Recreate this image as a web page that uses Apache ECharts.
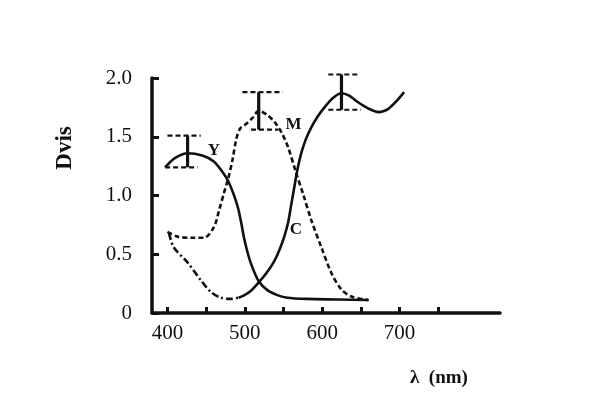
<!DOCTYPE html>
<html><head><meta charset="utf-8">
<script src="https://cdn.jsdelivr.net/npm/echarts@6/dist/echarts.min.js"></script>
<style>html,body{margin:0;padding:0;background:#fff}#c{width:600px;height:400px}</style>
</head><body><div id="c"></div>
<script>
// Curves [wavelength nm, Dvis]
const yellowCurve = [[397,1.24],[410,1.32],[426,1.36],[445,1.34],[460,1.29],[470,1.21],[478,1.13],[485,1.02],[491,0.90],[495,0.78],[499,0.64],[503,0.53],[508,0.42],[518,0.27],[530,0.19],[543,0.15],[555,0.13],[580,0.12],[620,0.115],[660,0.11]];
const magentaCurve = [[400,0.69],[413,0.65],[430,0.64],[447,0.64],[460,0.73],[467,0.88],[473,1.02],[478,1.13],[484,1.30],[489,1.48],[494,1.57],[502,1.61],[510,1.66],[518,1.72],[528,1.69],[538,1.63],[548,1.53],[556,1.41],[566,1.20],[576,1.00],[586,0.79],[599,0.56],[612,0.34],[625,0.20],[638,0.14],[660,0.11]];
const cyanDashDot = [[402,0.68],[408,0.56],[426,0.43],[443,0.28],[456,0.18],[469,0.13],[482,0.12],[492,0.13]];
const cyanSolid = [[492,0.13],[499,0.15],[508,0.19],[518,0.26],[528,0.34],[538,0.44],[545,0.54],[551,0.65],[556,0.77],[560,0.92],[564,1.07],[568,1.22],[573,1.36],[579,1.48],[586,1.58],[594,1.67],[603,1.75],[614,1.83],[625,1.87],[635,1.85],[645,1.80],[660,1.74],[673,1.71],[686,1.74],[697,1.81],[706,1.88]];
// Error bars
const errX = [426, 518, 625];
const errLo = [1.24, 1.56, 1.73];
const errHi = [1.51, 1.88, 2.03];
const capTopFrom = [400, 497, 608];
const capTopTo = [443, 549, 648];
const capBotFrom = [397, 508, 608];
const capBotTo = [439, 543, 650];
// Curve labels
const curveNames = ['Y', 'M', 'C'];
const curveLabelPos = [[460, 1.38], [563, 1.60], [566, 0.71]];
// Axis ticks
const xLabels = [400, 500, 600, 700];
const xTicks = [400, 450, 500, 550, 600, 650, 700, 750];

const ink = '#111';
const font = '"Liberation Serif","DejaVu Serif",serif';
const series = [];
function curve(data, type) {
  series.push({type:'line', data, smooth:0.3, symbol:'none', clip:false,
    lineStyle:{color:ink, width:2.6, type:type||'solid'}});
}
curve(yellowCurve, 'solid');
curve(magentaCurve, [5,3]);
curve(cyanDashDot, [7,3,2,3]);
curve(cyanSolid, 'solid');
for (let i = 0; i < errX.length; i++) {
  series.push({type:'line', data:[[errX[i],errLo[i]],[errX[i],errHi[i]]], symbol:'none', clip:false, lineStyle:{color:ink,width:3.2}});
  series.push({type:'line', data:[[capTopFrom[i],errHi[i]],[capTopTo[i],errHi[i]]], symbol:'none', clip:false, lineStyle:{color:ink,width:2.2,type:[5,3]}});
  series.push({type:'line', data:[[capBotFrom[i],errLo[i]],[capBotTo[i],errLo[i]]], symbol:'none', clip:false, lineStyle:{color:ink,width:2.2,type:[5,3]}});
}
series.push({type:'scatter', symbolSize:0, clip:false, itemStyle:{opacity:1},
  data: curveNames.map((n,i)=>({value:curveLabelPos[i], name:n})),
  label:{show:true, position:'inside', formatter:p=>p.name, color:ink, opacity:1, textBorderWidth:0, fontFamily:font, fontWeight:'bold', fontSize:17}});

const chart = echarts.init(document.getElementById('c'));
chart.setOption({
  animation:false,
  grid:{left:152, right:100, top:78, bottom:87},
  xAxis:{type:'value', min:380, max:830,
    axisLine:{lineStyle:{color:ink,width:3.5}},
    axisTick:{inside:true, length:6, customValues:xTicks, lineStyle:{color:ink,width:3}},
    axisLabel:{customValues:xLabels, color:ink, fontFamily:font, fontSize:21, margin:10},
    splitLine:{show:false}},
  yAxis:{type:'value', min:0, max:2, interval:0.5,
    axisLine:{show:true, lineStyle:{color:ink,width:3.5}},
    axisTick:{show:true, inside:true, length:7, lineStyle:{color:ink,width:3}},
    axisLabel:{color:ink, fontFamily:font, fontSize:21, margin:20, formatter:v=>v===0?'0':v.toFixed(1)},
    splitLine:{show:false}},
  graphic:[
    {type:'text', x:65, y:148, rotation:Math.PI/2, style:{text:'Dvis', fill:ink, font:'bold 23px '+font, align:'center', verticalAlign:'middle'}},
    {type:'text', x:410, y:378, style:{text:'λ  (nm)', fill:ink, font:'bold 19px '+font, verticalAlign:'middle'}}
  ],
  series
});
</script></body></html>
